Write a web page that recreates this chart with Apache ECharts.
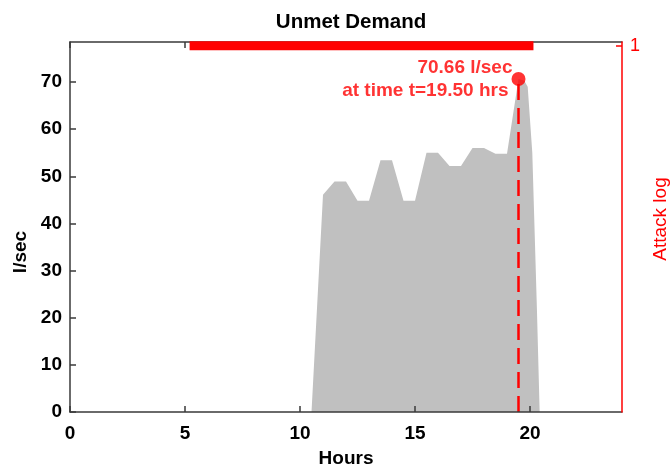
<!DOCTYPE html>
<html><head><meta charset="utf-8">
<script src="https://cdn.jsdelivr.net/npm/echarts@6/dist/echarts.min.js"></script>
<style>html,body{margin:0;padding:0;background:#fff}#c{width:670px;height:472px}</style>
</head><body><div id="c"></div>
<script>
// Data
const hours = [10.5, 11, 11.5, 12, 12.5, 13, 13.5, 14, 14.5, 15, 15.5, 16, 16.5, 17, 17.5, 18, 18.5, 19, 19.5, 19.75, 19.9, 20.1, 20.3, 20.42];
const unmetDemand = [0, 46.1, 48.9, 48.9, 44.8, 44.8, 53.4, 53.4, 44.8, 44.8, 55.0, 55.0, 52.2, 52.2, 56.0, 56.0, 54.8, 54.8, 70.66, 70.3, 69.0, 55.0, 22.0, 0];
const peakHour = 19.5;
const peakValue = 70.66;
const attackHours = [5.2, 20.15];
const attackLevel = [1, 1];
const xTicks = [0, 5, 10, 15, 20];
const yTicks = [0, 10, 20, 30, 40, 50, 60, 70];
const rightTicks = [1];

const FONT = '"Liberation Sans", Arial, sans-serif';
const RED = '#ff0000';
const AX = '#3a3a3a';

const chart = echarts.init(document.getElementById('c'), null, {renderer: 'canvas'});
chart.setOption({
  animation: false,
  backgroundColor: '#fff',
  title: {
    text: 'Unmet Demand', left: 346, top: 7, textAlign: 'center',
    textStyle: {fontFamily: FONT, fontSize: 20.5, fontWeight: 'bold', color: '#000'}
  },
  grid: {left: 70, right: 48, top: 42, bottom: 60, containLabel: false, outerBoundsMode: 'none'},
  xAxis: [{
    type: 'value', min: 0, max: 24, position: 'bottom', z: 5,
    axisLine: {show: true, onZero: false, lineStyle: {color: AX, width: 1.5}},
    axisTick: {show: true, inside: true, length: 6, customValues: xTicks, lineStyle: {color: AX, width: 1.5}},
    axisLabel: {customValues: xTicks, fontFamily: FONT, fontSize: 19, fontWeight: 'bold', color: '#000', margin: 12},
    splitLine: {show: false},
    name: 'Hours', nameLocation: 'middle', nameGap: 37,
    nameTextStyle: {fontFamily: FONT, fontSize: 19, fontWeight: 'bold', color: '#000'}
  }, {
    type: 'value', min: 0, max: 24, position: 'top', z: 2,
    axisLine: {show: true, onZero: false, lineStyle: {color: AX, width: 1.5}},
    axisTick: {show: true, inside: true, length: 6, customValues: xTicks, lineStyle: {color: AX, width: 1.5}},
    axisLabel: {show: false},
    splitLine: {show: false}
  }],
  yAxis: [{
    type: 'value', min: 0, max: 78.5, position: 'left', z: 5,
    axisLine: {show: true, onZero: false, lineStyle: {color: AX, width: 1.5}},
    axisTick: {show: true, inside: true, length: 6, customValues: yTicks, lineStyle: {color: AX, width: 1.5}},
    axisLabel: {customValues: yTicks, fontFamily: FONT, fontSize: 19, fontWeight: 'bold', color: '#000', margin: 8},
    splitLine: {show: false},
    name: 'l/sec', nameLocation: 'middle', nameGap: 40, nameRotate: 90,
    nameTextStyle: {fontFamily: FONT, fontSize: 19, fontWeight: 'bold', color: '#000', padding: [0, 50, 0, 0]}
  }, {
    type: 'value', min: 0, max: 1.01, position: 'right', z: 6, alignTicks: false,
    axisLine: {show: true, onZero: false, lineStyle: {color: RED, width: 1.5}},
    axisTick: {show: true, inside: true, length: 6, customValues: rightTicks, lineStyle: {color: RED, width: 1.5}},
    axisLabel: {customValues: rightTicks, fontFamily: FONT, fontSize: 18, color: RED, margin: 8},
    splitLine: {show: false},
    name: 'Attack log', nameLocation: 'middle', nameGap: 28, nameRotate: 90,
    nameTextStyle: {fontFamily: FONT, fontSize: 19, color: RED, padding: [0, 0, 0, 16]}
  }],
  series: [{
    type: 'line', xAxisIndex: 0, yAxisIndex: 0, z: 1,
    data: hours.map((h, i) => [h, unmetDemand[i]]),
    symbol: 'none', lineStyle: {width: 0, color: '#c0c0c0'},
    areaStyle: {color: '#c0c0c0', opacity: 1}
  }, {
    type: 'line', xAxisIndex: 0, yAxisIndex: 1, z: 3,
    data: attackHours.map((h, i) => [h, attackLevel[i]]),
    symbol: 'none', lineStyle: {width: 9, color: RED}
  }, {
    type: 'line', xAxisIndex: 0, yAxisIndex: 0, z: 3,
    data: [[peakHour, 0], [peakHour, peakValue]],
    symbol: 'none', lineStyle: {width: 2.5, color: RED, type: [16, 8]}
  }, {
    type: 'scatter', xAxisIndex: 0, yAxisIndex: 0, z: 4,
    data: [[peakHour, peakValue]],
    symbolSize: 14, itemStyle: {color: RED},
    label: {
      show: true, position: 'left', distance: -1, align: 'right',
      formatter: '{a|' + peakValue.toFixed(2) + ' l/sec}\n{b|at time t=' + peakHour.toFixed(2) + ' hrs}',
      rich: {
        a: {fontFamily: FONT, fontSize: 19, fontWeight: 'bold', color: RED, lineHeight: 23, align: 'right'},
        b: {fontFamily: FONT, fontSize: 19, fontWeight: 'bold', color: RED, lineHeight: 23, align: 'right', padding: [0, 4, 0, 0]}
      }
    }
  }]
});
</script>
</body></html>
